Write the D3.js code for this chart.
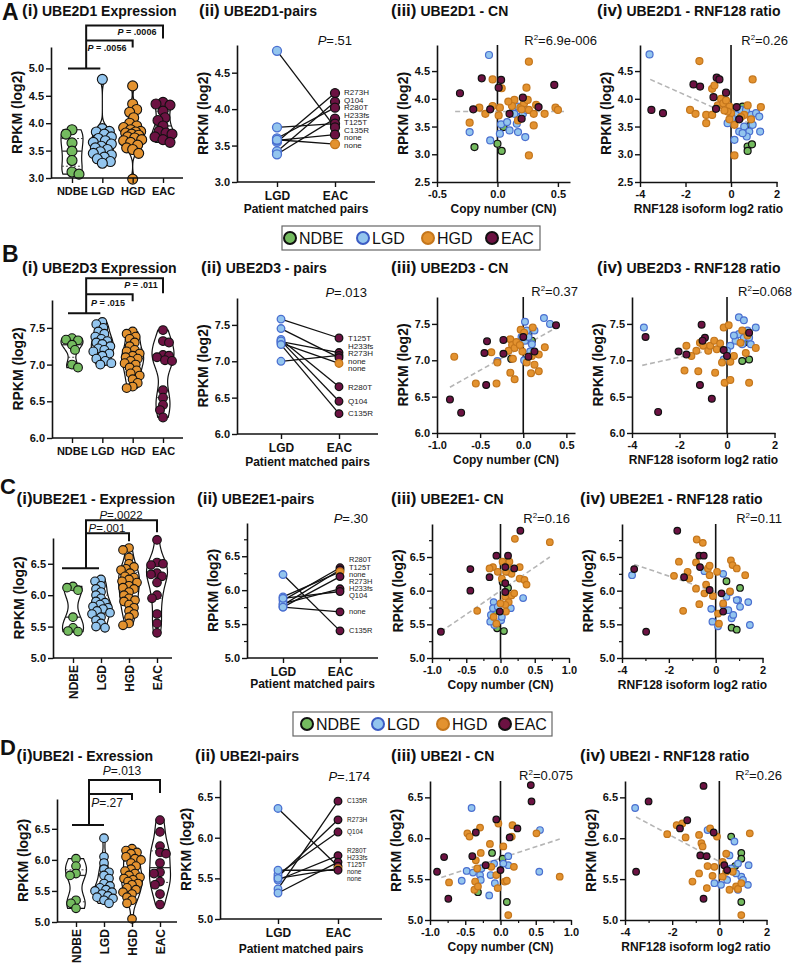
<!DOCTYPE html>
<html>
<head>
<meta charset="utf-8">
<script src="https://cdn.jsdelivr.net/npm/d3@7"></script>
<style>
  body { margin: 0; background: #fff; }
  svg { display: block; }
  text { white-space: pre; }
</style>
</head>
<body>
<svg id="fig" width="793" height="965"></svg>
<script>
// ---- data ----
const groups = ["NDBE", "LGD", "HGD", "EAC"];
const fillCol = ["#74bb5f", "#93c5ee", "#e3922f", "#6c1242"];
const markStroke = ["#111", "#4a6fd0", "#c4761c", "#111"];

// expression per group (NDBE, LGD, HGD, EAC)
const ube2d1Expr = [
  [3.88, 3.80, 3.64, 3.49, 3.32, 3.11, 3.07],
  [4.80, 3.90, 3.85, 3.84, 3.80, 3.75, 3.72, 3.68, 3.65, 3.62, 3.58, 3.55, 3.52, 3.48, 3.45, 3.42, 3.38, 3.35, 3.30, 3.27],
  [4.68, 4.35, 4.25, 4.20, 4.10, 4.00, 3.95, 3.92, 3.88, 3.85, 3.84, 3.82, 3.80, 3.78, 3.75, 3.73, 3.70, 3.68, 3.65, 3.60, 3.55, 3.52, 3.45, 2.98],
  [4.38, 4.35, 4.33, 4.22, 4.10, 4.05, 3.95, 3.85, 3.82, 3.80, 3.75, 3.70, 3.65]
];
const ube2d3Expr = [
  [7.36, 7.34, 7.33, 7.27, 7.20, 7.00, 6.96],
  [7.58, 7.55, 7.50, 7.45, 7.42, 7.38, 7.35, 7.32, 7.30, 7.28, 7.25, 7.22, 7.20, 7.18, 7.15, 7.12, 7.08, 7.05, 7.02, 7.00],
  [7.45, 7.42, 7.38, 7.35, 7.30, 7.25, 7.20, 7.18, 7.15, 7.12, 7.10, 7.08, 7.05, 7.02, 7.00, 6.96, 6.92, 6.88, 6.85, 6.80, 6.75, 6.70, 6.68],
  [7.47, 7.32, 7.30, 7.13, 7.12, 7.10, 7.06, 7.05, 6.65, 6.55, 6.45, 6.38, 6.28]
];
const ube2e1Expr = [
  [6.14, 6.12, 6.08, 5.65, 5.48, 5.43, 5.42],
  [6.25, 6.22, 6.15, 6.10, 6.05, 6.00, 5.95, 5.90, 5.88, 5.85, 5.82, 5.80, 5.78, 5.75, 5.72, 5.70, 5.65, 5.60, 5.55, 5.50, 5.48],
  [6.75, 6.72, 6.60, 6.50, 6.45, 6.42, 6.40, 6.35, 6.30, 6.28, 6.25, 6.22, 6.20, 6.15, 6.12, 6.10, 6.05, 6.00, 5.95, 5.92, 5.90, 5.85, 5.80, 5.75, 5.70, 5.65, 5.55, 5.52],
  [6.88, 6.52, 6.50, 6.48, 6.35, 6.33, 6.30, 6.20, 6.00, 5.95, 5.70, 5.55, 5.40]
];
const ube2iExpr = [
  [6.02, 5.90, 5.78, 5.75, 5.35, 5.30, 5.22],
  [6.35, 6.05, 5.95, 5.85, 5.80, 5.75, 5.70, 5.62, 5.58, 5.55, 5.52, 5.50, 5.48, 5.45, 5.42, 5.40, 5.38, 5.35, 5.30],
  [6.18, 6.15, 6.12, 6.10, 6.05, 6.02, 6.00, 5.95, 5.90, 5.85, 5.82, 5.78, 5.75, 5.72, 5.70, 5.68, 5.65, 5.62, 5.60, 5.55, 5.52, 5.48, 5.45, 5.40, 5.35, 5.30, 5.05],
  [6.64, 6.45, 6.22, 6.12, 6.10, 5.95, 5.80, 5.78, 5.65, 5.60, 5.45, 5.28]
];

// patient matched pairs (LGD -> EAC), EAC mutation label, EAC group colour
const ube2d1Mut = ["R273H", "Q104", "R280T", "H233fs", "T125T", "C135R", "none", "none"];
const ube2d1Eac = [4.22, 4.10, 4.02, 3.87, 3.80, 3.75, 3.65, 3.52];
const ube2d1Lgd = [3.55, 3.42, 3.60, 3.38, 3.75, 4.80, 3.57, 3.58];
const ube2d1Grp = [3, 3, 3, 3, 3, 3, 3, 2];

const ube2d3Mut = ["T125T", "H233fs", "R273H", "none", "none", "R280T", "Q104", "C135R"];
const ube2d3Eac = [7.32, 7.12, 7.08, 7.05, 6.97, 6.65, 6.45, 6.28];
const ube2d3Lgd = [7.58, 7.27, 7.00, 7.45, 7.25, 7.30, 7.28, 7.23];
const ube2d3Grp = [3, 3, 3, 3, 2, 3, 3, 3];

const ube2e1Mut = ["R280T", "T125T", "none", "R273H", "H233fs", "Q104", "none", "C135R"];
const ube2e1Eac = [6.33, 6.30, 6.27, 6.20, 6.02, 5.98, 5.68, 5.40];
const ube2e1Lgd = [5.85, 5.78, 5.90, 5.75, 5.80, 5.88, 5.75, 6.23];
const ube2e1Grp = [3, 3, 2, 3, 3, 3, 3, 3];

const ube2iMut = ["C135R", "R273H", "Q104", "R280T", "H233fs", "T125T", "none", "none"];
const ube2iEac = [6.45, 6.22, 6.07, 5.78, 5.70, 5.65, 5.62, 5.60];
const ube2iLgd = [5.37, 5.52, 5.55, 5.48, 5.32, 6.36, 5.50, 5.60];
const ube2iGrp = [3, 3, 3, 3, 3, 3, 2, 3];

// scatter points [x, y] per group (NDBE, LGD, HGD, EAC)
const ube2d1CN = [
  [[-0.19,3.13],[0.00,3.19],[0.035,3.06],[0.05,3.49]],
  [[-0.07,4.79],[-0.23,3.40],[-0.06,3.25],[0.02,3.37],[0.03,3.54],[0.13,3.84],[0.17,3.86],[0.10,3.43],[0.17,3.40],[0.16,3.55],[0.18,3.67],[0.21,3.73],[0.24,3.80],[0.23,3.31],[0.14,3.73],[0.08,3.58]],
  [[0.26,4.67],[-0.04,4.35],[-0.23,3.57],[-0.15,3.84],[-0.10,3.73],[-0.04,3.87],[0.02,3.84],[0.01,3.70],[0.035,4.19],[0.14,3.98],[0.19,3.84],[0.22,3.92],[0.24,4.20],[0.25,3.98],[0.26,3.80],[0.30,3.73],[0.30,3.52],[0.32,3.89],[0.39,3.73],[0.48,3.84],[0.50,3.80],[0.26,2.98],[0.17,3.61],[0.20,3.81],[0.12,3.87],[0.09,3.95]],
  [[-0.31,4.10],[-0.13,4.37],[0.03,4.34],[0.01,4.20],[-0.20,3.81],[-0.06,3.81],[0.10,3.73],[0.21,4.02],[0.20,3.64],[0.34,3.85],[0.47,4.25]]
];
const ube2d1Ratio = [
  [[0.51,3.86],[0.73,3.14],[0.92,3.18],[0.73,3.06],[0.88,3.53]],
  [[-3.58,4.80],[0.22,3.71],[-0.15,3.56],[0.15,3.26],[0.36,3.41],[0.58,3.50],[0.80,3.41],[0.69,3.32],[0.88,3.71],[1.10,3.74],[1.24,3.68],[1.28,3.41],[0.44,3.80],[0.66,3.80],[0.51,3.38],[0.95,3.53],[0.04,3.65]],
  [[-1.39,4.68],[-1.80,3.80],[-1.56,3.73],[-1.09,3.71],[-1.09,3.56],[-0.83,3.71],[-0.83,4.18],[-0.73,4.24],[-0.58,3.88],[-0.44,4.00],[-0.34,3.92],[-0.22,3.97],[-0.07,3.86],[0.00,3.74],[-0.15,3.77],[-0.07,3.63],[0.15,3.53],[0.15,2.98],[0.95,4.35],[0.73,3.88],[0.58,3.71],[0.88,3.63],[1.31,3.85],[0.44,3.67],[-0.29,3.79]],
  [[-3.50,3.80],[-2.99,3.74],[-1.65,4.26],[-1.36,4.22],[-0.63,4.38],[-0.51,4.35],[-0.77,4.03],[-0.66,3.82],[-0.22,4.11],[0.25,3.85],[0.36,3.63]]
];
const ube2d3CN = [
  [[-0.14,7.02],[0.10,7.27],[0.06,7.36]],
  [[-0.30,6.99],[0.02,7.53],[0.04,7.41],[0.02,7.27],[0.06,7.32],[0.10,7.22],[0.08,7.12],[0.01,7.00],[0.24,7.58],[0.31,7.50],[0.13,7.41],[-0.02,7.32]],
  [[-0.80,7.05],[-0.55,6.68],[-0.31,6.68],[-0.37,7.11],[-0.30,6.97],[-0.15,7.29],[-0.13,7.21],[-0.17,7.13],[-0.10,7.17],[-0.08,7.25],[-0.03,7.42],[0.01,7.38],[-0.01,7.12],[-0.12,7.02],[-0.15,6.83],[-0.10,6.74],[0.04,6.97],[0.10,7.06],[0.13,6.94],[0.09,6.82],[0.18,7.08],[0.18,6.85],[0.25,7.18],[0.11,7.45],[-0.04,7.21]],
  [[-0.85,6.46],[-0.72,6.28],[-0.42,7.26],[-0.45,7.10],[-0.43,6.66],[-0.23,7.09],[-0.23,7.28],[0.00,7.32],[0.06,7.05],[0.13,7.12],[0.38,7.48]]
];
const ube2d3Ratio = [
  [[0.64,6.99],[0.93,7.01],[0.71,7.24]],
  [[-3.50,7.45],[0.50,7.59],[0.71,7.55],[0.50,7.36],[0.86,7.41],[1.21,7.45],[0.36,7.27],[0.71,7.31],[0.93,7.31],[1.00,7.22],[0.14,7.20],[-0.14,7.01],[0.00,7.13],[0.64,7.22],[0.29,7.34]],
  [[-1.79,6.86],[-1.71,7.20],[-1.50,7.06],[-1.21,6.85],[-1.29,7.13],[-1.14,7.24],[-1.00,7.20],[-0.79,7.13],[-0.71,7.20],[-0.54,7.27],[-0.43,7.15],[-0.29,7.23],[-0.50,6.83],[-0.21,6.97],[-0.14,7.45],[0.07,7.48],[-0.10,6.69],[0.14,6.73],[0.14,6.98],[0.29,7.06],[0.57,7.24],[0.64,7.41],[0.79,7.10],[0.93,6.69],[1.21,7.17],[0.86,7.34]],
  [[-3.43,7.32],[-2.90,6.29],[-2.04,7.12],[-1.71,7.08],[-1.07,7.49],[-0.93,7.31],[-1.03,7.27],[-1.14,6.66],[-0.64,6.47],[-0.14,7.14],[0.00,7.06],[0.93,7.38]]
];
const ube2e1CN = [
  [[0.03,6.13],[0.11,6.04],[0.05,5.40],[-0.05,5.44],[-0.09,5.69]],
  [[-0.10,5.83],[-0.11,5.74],[-0.04,5.76],[0.01,5.56],[-0.09,5.49],[-0.15,5.54],[0.15,5.74],[0.33,5.89],[0.11,6.28],[0.02,5.61],[-0.14,5.64]],
  [[-0.34,5.70],[-0.11,6.35],[0.03,6.43],[-0.04,6.28],[0.02,6.18],[0.10,6.38],[0.16,6.25],[0.13,6.43],[0.21,6.77],[0.28,6.18],[0.35,6.16],[0.38,6.09],[0.28,6.35],[0.07,5.91],[0.16,5.93],[0.12,5.83],[0.07,5.79],[0.00,5.81],[0.08,5.69],[-0.06,5.51],[-0.10,5.61],[0.72,6.72],[-0.16,6.33],[0.20,5.96],[0.08,6.28]],
  [[-0.87,5.39],[-0.44,6.32],[-0.44,6.00],[-0.16,6.20],[-0.06,6.52],[-0.01,5.69],[0.11,6.52],[0.07,6.35],[0.07,6.11],[0.20,6.33],[0.29,6.89],[0.07,5.98]]
];
const ube2e1Ratio = [
  [[0.46,6.14],[1.04,6.04],[0.68,5.45],[0.90,5.42]],
  [[-3.57,6.23],[-0.48,6.29],[-0.19,5.73],[-0.14,5.54],[0.32,6.25],[0.46,5.91],[0.61,5.98],[0.96,5.86],[1.04,5.76],[1.39,5.83],[1.46,5.49],[0.68,5.59],[0.54,5.71],[0.90,5.86],[0.32,5.79],[0.10,5.47],[0.75,5.64]],
  [[-1.57,6.43],[-1.78,6.22],[-1.39,5.70],[-1.13,6.18],[-0.84,6.03],[-1.20,6.28],[-0.81,6.76],[-0.55,6.71],[-0.84,6.42],[-0.70,5.80],[-0.48,5.96],[-0.41,6.09],[-0.33,6.33],[-0.26,6.37],[-0.12,5.92],[0.06,6.28],[0.10,5.66],[0.14,5.51],[0.32,5.81],[0.61,5.99],[0.65,6.45],[0.72,6.38],[0.90,6.33],[1.26,6.23],[-0.26,6.23]],
  [[-3.48,6.32],[-2.97,5.39],[-1.64,6.89],[-1.35,6.20],[-0.70,6.52],[-0.51,6.52],[-0.67,6.35],[-0.26,6.01],[0.25,5.96],[0.32,5.69]]
];
const ube2iCN = [
  [[-0.12,5.82],[0.03,5.75],[0.09,5.22],[-0.32,5.34]],
  [[-0.41,6.37],[-0.48,5.60],[-0.55,5.48],[-0.39,5.58],[-0.29,5.55],[-0.27,5.63],[-0.28,5.49],[-0.08,5.45],[-0.09,5.69],[-0.16,5.30],[0.11,5.78],[0.11,5.67],[0.56,6.10],[0.55,5.59],[-0.14,5.55],[0.04,5.69]],
  [[-0.73,5.46],[-0.47,6.06],[-0.44,6.02],[-0.29,6.13],[-0.28,5.82],[-0.35,5.73],[-0.33,5.63],[-0.36,5.47],[-0.37,5.37],[-0.32,5.41],[-0.15,5.93],[-0.13,5.65],[-0.06,5.55],[-0.04,5.39],[-0.03,6.18],[0.04,5.90],[0.06,5.47],[0.09,5.48],[0.17,6.16],[0.16,6.02],[0.19,5.65],[0.11,5.06],[0.51,6.06],[0.84,5.53]],
  [[-0.90,5.59],[-0.80,5.77],[-0.74,5.26],[-0.35,6.07],[-0.40,5.78],[-0.21,5.67],[-0.06,6.23],[0.24,6.12],[0.43,6.65],[0.44,6.45],[0.00,5.61],[0.13,6.01]]
];
const ube2iRatio = [
  [[0.50,6.02],[0.93,5.82],[0.93,5.75],[0.67,5.66],[0.93,5.22]],
  [[-3.57,6.37],[-0.50,6.10],[-0.21,5.45],[0.07,5.43],[0.43,5.79],[0.64,5.96],[0.79,5.69],[1.24,5.67],[1.21,5.43],[0.93,5.53],[0.79,5.37],[0.33,5.49],[0.50,5.63],[0.71,5.57],[1.00,5.49]],
  [[-2.21,6.05],[-1.81,6.16],[-1.57,6.18],[-1.43,6.01],[-1.14,5.47],[-0.86,6.04],[-0.76,5.94],[-0.71,5.90],[-0.86,5.57],[-0.53,5.39],[-0.39,6.12],[-0.10,6.02],[-0.50,5.66],[-0.21,5.65],[-0.29,5.54],[0.14,5.71],[0.29,5.59],[0.29,5.81],[0.43,5.37],[0.57,5.59],[0.71,5.41],[0.79,5.38],[0.93,5.45],[0.93,5.06],[1.29,6.06],[0.14,5.53]],
  [[-3.53,5.59],[-3.00,6.45],[-1.36,6.22],[-1.67,6.12],[-0.67,6.64],[-0.24,6.07],[-0.81,5.79],[-0.54,5.78],[-0.67,5.26],[0.21,5.67],[0.33,5.61]]
];

// regression lines [x0, y0, x1, y1]
const fitD1CN = [-0.35, 3.77, 0.55, 3.77];
const fitD1Ratio = [-3.55, 4.35, 0.95, 3.53];
const fitD3CN = [-0.85, 6.63, 0.37, 7.44];
const fitD3Ratio = [-3.57, 6.93, 0.86, 7.25];
const fitE1CN = [-0.87, 5.39, 0.72, 6.50];
const fitE1Ratio = [-3.48, 6.39, 1.04, 5.86];
const fitICN = [-0.84, 5.52, 0.84, 5.99];
const fitIRatio = [-3.53, 6.26, 1.07, 5.55];

// ---- drawing ----
const FONT = '"Liberation Sans", Arial, Helvetica, sans-serif';
const svg = d3.select("#fig").attr("font-family", FONT);
const INK = "#111";

function fmt(spec) {
  const f = d3.format(spec);
  return d => f(d).replace("\u2212", "-");
}

function styleAxis(g, fs) {
  g.attr("font-family", null).attr("font-size", null);
  g.select(".domain").attr("stroke", INK).attr("stroke-width", 1.6);
  g.selectAll(".tick line").attr("stroke", INK).attr("stroke-width", 1.4);
  g.selectAll(".tick text").attr("fill", INK)
    .style("font-size", (fs || 11) + "px").style("font-weight", "bold").style("font-family", FONT);
}

function yAxis(y, x0, ticks, minor) {
  const g = svg.append("g").attr("transform", `translate(${x0},0)`)
    .call(d3.axisLeft(y).tickValues(ticks).tickFormat(fmt(".1f")).tickSize(5).tickSizeOuter(0).tickPadding(2));
  styleAxis(g);
  if (minor) {
    const [lo, hi] = y.domain();
    const m = d3.range(lo, hi + 1e-9, minor).filter(v => !ticks.some(t => Math.abs(t - v) < 1e-6));
    const gm = svg.append("g").attr("transform", `translate(${x0},0)`)
      .call(d3.axisLeft(y).tickValues(m).tickFormat("").tickSize(3));
    gm.select(".domain").remove();
    gm.selectAll(".tick line").attr("stroke", INK).attr("stroke-width", 1.2);
  }
}

function yLabel(x0, yT, yB) {
  svg.append("text")
    .attr("transform", `translate(${x0 - 29},${(yT + yB) / 2}) rotate(-90)`)
    .attr("text-anchor", "middle").attr("font-size", 14).attr("font-weight", "bold").attr("fill", INK)
    .text("RPKM (log2)");
}

function catAxis(x, yB, x0, x1, rotate, fs) {
  svg.append("line").attr("x1", x0).attr("x2", x1).attr("y1", yB).attr("y2", yB)
    .attr("stroke", INK).attr("stroke-width", 1.6);
  const g = svg.append("g").attr("transform", `translate(0,${yB})`)
    .call(d3.axisBottom(x).tickSize(5).tickPadding(4));
  g.select(".domain").remove();
  styleAxis(g, fs || 12);
  if (rotate) {
    g.selectAll(".tick text").attr("transform", "rotate(-90)")
      .attr("text-anchor", "end").attr("x", -7).attr("y", 0).attr("dy", "0.35em");
  }
}

function swarm(ys, r, maxOff) {
  const order = ys.map((py, i) => ({ py, i })).sort((a, b) => a.py - b.py);
  const placed = [], off = new Array(ys.length).fill(0);
  const minD = r * 1.35;
  order.forEach((p, k) => {
    let best = 0, bestD = -1;
    for (let j = 0; j <= 2 * maxOff; j++) {
      const o = j === 0 ? 0 : ((j + k) % 2 ? 1 : -1) * Math.ceil(j / 2);
      let dmin = Infinity;
      placed.forEach(q => { dmin = Math.min(dmin, Math.hypot(o - q.o, p.py - q.py)); });
      if (dmin >= minD) { best = o; break; }
      if (dmin > bestD) { bestD = dmin; best = o; }
    }
    off[p.i] = best;
    placed.push({ o: best, py: p.py });
  });
  return off;
}

function exprPanel(o) {
  const y = d3.scaleLinear().domain(o.dom).range([o.yB, o.yT]);
  const x = d3.scalePoint().domain(groups).range(o.catRange);

  o.data.forEach((vals, gi) => {
    const cx = x(groups[gi]);
    const s = vals.slice().sort(d3.ascending);
    const n = s.length;
    const sd = d3.deviation(s);
    const iqr = d3.quantile(s, 0.75) - d3.quantile(s, 0.25);
    const bw = 0.75 * Math.min(sd, iqr / 1.34 || sd) * Math.pow(n, -0.2);
    const kde = v => d3.sum(s, d => Math.exp(-0.5 * ((v - d) / bw) ** 2));
    const grid = d3.range(41).map(i => s[0] + (s[n - 1] - s[0]) * i / 40);
    const dens = grid.map(kde);
    const w = d3.scaleLinear().domain([0, d3.max(dens)]).range([0, o.halfW]);
    const area = d3.area().y(d => y(d))
      .x0((d, i) => cx - w(dens[i])).x1((d, i) => cx + w(dens[i]))
      .curve(d3.curveBasis);
    svg.append("path").datum(grid).attr("d", area)
      .attr("fill", "#fff").attr("stroke", INK).attr("stroke-width", 1.2);
    // median and quartiles
    [[0.5, null, 1.3], [0.25, "2,2", 0.9], [0.75, "2,2", 0.9]].forEach(([q, dash, sw]) => {
      const v = d3.quantile(s, q), hw = w(kde(v));
      svg.append("line").attr("x1", cx - hw).attr("x2", cx + hw).attr("y1", y(v)).attr("y2", y(v))
        .attr("stroke", "#333").attr("stroke-width", sw).attr("stroke-dasharray", dash);
    });
    const ys = vals.map(v => y(v));
    const offs = swarm(ys, o.r, o.halfW - 2);
    svg.append("g").selectAll("circle").data(vals).join("circle")
      .attr("cx", (d, i) => cx + offs[i]).attr("cy", d => y(d)).attr("r", o.r)
      .attr("fill", fillCol[gi]).attr("stroke", INK).attr("stroke-width", 1.1);
  });

  yAxis(y, o.x0, o.ticks);
  yLabel(o.x0, o.yT, o.yB);
  catAxis(x, o.yB, o.x0, o.x1, o.rotate, o.rotate ? 12 : 11);

  // significance brackets
  const c = groups.map(g => x(g));
  const b = o.br, base = y(b.v), mid = (c[0] + c[1]) / 2 - 1;
  const path = d3.path();
  path.moveTo(c[0] + b.left, base); path.lineTo(c[1] + b.right, base);
  path.moveTo(mid, base); path.lineTo(mid, base - b.top); path.lineTo(c[3], base - b.top); path.lineTo(c[3], base - b.top + b.drop);
  path.moveTo(mid, base - b.inner); path.lineTo(c[2], base - b.inner); path.lineTo(c[2], base - b.inner + b.idrop);
  svg.append("path").attr("d", path.toString()).attr("fill", "none").attr("stroke", INK).attr("stroke-width", 2);
  o.pl.forEach(p => {
    const t = svg.append("text").attr("x", p.x).attr("y", p.y).attr("text-anchor", "middle")
      .attr("font-size", o.plSize).attr("font-weight", o.plBold ? "bold" : "normal").attr("fill", INK);
    t.append("tspan").attr("font-style", "italic").text("P");
    t.append("tspan").text(p.t);
  });
}

function spread(ys, gap) {
  let cl = ys.map((y, i) => ({ idx: [i], c: y }));
  let changed = true;
  while (changed) {
    changed = false;
    for (let k = 0; k < cl.length - 1; k++) {
      const a = cl[k], b = cl[k + 1];
      const aEnd = a.c + (a.idx.length - 1) * gap / 2;
      const bStart = b.c - (b.idx.length - 1) * gap / 2;
      if (bStart - aEnd < gap) {
        const idx = a.idx.concat(b.idx);
        cl.splice(k, 2, { idx, c: d3.mean(idx, i => ys[i]) });
        changed = true;
        break;
      }
    }
  }
  const out = [];
  cl.forEach(c => c.idx.forEach((i, j) => { out[i] = c.c - (c.idx.length - 1) * gap / 2 + j * gap; }));
  return out;
}

function pairsPanel(o) {
  const y = d3.scaleLinear().domain(o.dom).range([o.yB, o.yT]);
  const x = d3.scalePoint().domain(["LGD", "EAC"]).range([o.lgdX, o.eacX]);
  svg.append("g").selectAll("line").data(o.lgd).join("line")
    .attr("x1", x("LGD")).attr("x2", x("EAC"))
    .attr("y1", d => y(d)).attr("y2", (d, i) => y(o.eac[i]))
    .attr("stroke", INK).attr("stroke-width", 1.3);
  svg.append("g").selectAll("circle").data(o.lgd).join("circle")
    .attr("cx", x("LGD")).attr("cy", d => y(d)).attr("r", o.r)
    .attr("fill", fillCol[1]).attr("stroke", markStroke[1]).attr("stroke-width", 1.3);
  svg.append("g").selectAll("circle").data(o.eac).join("circle")
    .attr("cx", x("EAC")).attr("cy", d => y(d)).attr("r", o.r)
    .attr("fill", (d, i) => fillCol[o.grp[i]]).attr("stroke", (d, i) => markStroke[o.grp[i]]).attr("stroke-width", 1.3);
  const ly = spread(o.eac.map(v => y(v)), o.gap);
  svg.append("g").selectAll("text").data(o.mut).join("text")
    .attr("x", x("EAC") + 9).attr("y", (d, i) => ly[i] + o.lfs * 0.35)
    .attr("font-size", o.lfs).attr("fill", "#222").text(d => d);

  yAxis(y, o.x0, o.ticks, o.minor);
  yLabel(o.x0, o.yT, o.yB);
  catAxis(x, o.yB, o.x0, o.x1, false);
  svg.append("text").attr("x", (o.x0 + o.x1) / 2).attr("y", o.yB + o.tOff)
    .attr("text-anchor", "middle").attr("font-size", 12).attr("font-weight", "bold").attr("fill", INK)
    .text("Patient matched pairs");
  const t = svg.append("text").attr("x", o.pX).attr("y", o.pY).attr("text-anchor", "end")
    .attr("font-size", 13).attr("fill", INK);
  t.append("tspan").attr("font-style", "italic").text("P");
  t.append("tspan").text(o.p);
}

function scatPanel(o) {
  const x = d3.scaleLinear().domain(o.xdom).range([o.x0, o.x1]);
  const y = d3.scaleLinear().domain(o.ydom).range([o.yB, o.yT]);
  svg.append("line").attr("x1", x(0)).attr("x2", x(0)).attr("y1", o.yB).attr("y2", o.yT)
    .attr("stroke", INK).attr("stroke-width", 1.6);
  svg.append("line")
    .attr("x1", x(o.fit[0])).attr("y1", y(o.fit[1])).attr("x2", x(o.fit[2])).attr("y2", y(o.fit[3]))
    .attr("stroke", "#b5b5b5").attr("stroke-width", 1.6).attr("stroke-dasharray", "5,3");
  o.data.forEach((pts, gi) => {
    svg.append("g").selectAll("circle").data(pts).join("circle")
      .attr("cx", d => x(d[0])).attr("cy", d => y(d[1])).attr("r", o.r)
      .attr("fill", fillCol[gi]).attr("stroke", markStroke[gi]).attr("stroke-width", 1.2);
  });
  yAxis(y, o.x0, o.yticks, o.yminor);
  yLabel(o.x0, o.yT, o.yB);
  const gx = svg.append("g").attr("transform", `translate(0,${o.yB})`)
    .call(d3.axisBottom(x).tickValues(o.xticks).tickFormat(fmt(o.xfmt)).tickSize(5).tickSizeOuter(0).tickPadding(3));
  styleAxis(gx);
  if (o.xminor) {
    const gm = svg.append("g").attr("transform", `translate(0,${o.yB})`)
      .call(d3.axisBottom(x).tickValues(o.xminor).tickFormat("").tickSize(3));
    gm.select(".domain").remove();
    gm.selectAll(".tick line").attr("stroke", INK).attr("stroke-width", 1.2);
  }
  svg.append("text").attr("x", (o.x0 + o.x1) / 2).attr("y", o.yB + 31)
    .attr("text-anchor", "middle").attr("font-size", 12).attr("font-weight", "bold").attr("fill", INK)
    .text(o.xlabel);
  const t = svg.append("text").attr("x", o.rX).attr("y", o.rY).attr("text-anchor", "end")
    .attr("font-size", 13).attr("fill", INK);
  t.append("tspan").text("R");
  t.append("tspan").attr("font-size", 8).attr("dy", -5).text("2");
  t.append("tspan").attr("dy", 5).text("=" + o.r2);
}

function title(x, y, a, b) {
  const t = svg.append("text").attr("x", x).attr("y", y).attr("font-weight", "bold").attr("fill", INK);
  t.append("tspan").attr("font-size", 17).text(a);
  t.append("tspan").attr("font-size", 14).text(b);
}
function letter(t, x, y, fs) {
  svg.append("text").attr("x", x).attr("y", y).attr("font-size", fs || 23).attr("font-weight", "bold")
    .attr("fill", INK).text(t);
}
function legend(x, y, w, h, cxs) {
  svg.append("rect").attr("x", x).attr("y", y).attr("width", w).attr("height", h)
    .attr("fill", "#fff").attr("stroke", "#666").attr("stroke-width", 1.2);
  groups.forEach((g, i) => {
    svg.append("circle").attr("cx", cxs[i]).attr("cy", y + h / 2).attr("r", 6)
      .attr("fill", fillCol[i]).attr("stroke", i === 1 ? "#3c5cc4" : i === 2 ? "#c4761c" : INK)
      .attr("stroke-width", 2);
    svg.append("text").attr("x", cxs[i] + 9).attr("y", y + h / 2 + 6)
      .attr("font-size", 16).attr("fill", INK).text(g);
  });
}

// ---------- Row A ----------
letter("A", 2, 20);
title(22, 16, "(i)", " UBE2D1 Expression");
title(199, 16, "(ii)", " UBE2D1-pairs");
title(391, 16, "(iii)", " UBE2D1 - CN");
title(597, 16, "(iv)", " UBE2D1 - RNF128 ratio");
exprPanel({
  data: ube2d1Expr, dom: [3.0, 5.39], ticks: [3, 3.5, 4, 4.5, 5],
  x0: 51, x1: 183, yB: 178, yT: 47, catRange: [72, 163], r: 5, halfW: 11,
  br: { v: 5.0, top: 43, drop: 13, inner: 28, idrop: 7, left: -4, right: -2 },
  pl: [{ t: " = .0006", x: 137, y: 35 }, { t: " = .0056", x: 107, y: 51 }], plSize: 9, plBold: true
});
pairsPanel({
  lgd: ube2d1Lgd, eac: ube2d1Eac, mut: ube2d1Mut, grp: ube2d1Grp,
  dom: [3.0, 4.88], ticks: [3, 3.5, 4, 4.5], x0: 237, x1: 375, yB: 182, yT: 45,
  lgdX: 277, eacX: 335, r: 4.5, gap: 7.5, lfs: 8, tOff: 31, p: "=.51", pX: 352, pY: 45
});
scatPanel({
  data: ube2d1CN, fit: fitD1CN, xdom: [-0.5, 0.6], x0: 437, x1: 570, xticks: [-0.5, 0, 0.5], xfmt: ".1f",
  ydom: [2.5, 4.97], yB: 182, yT: 45, yticks: [2.5, 3, 3.5, 4, 4.5], r: 3.5,
  xlabel: "Copy number (CN)", r2: "6.9e-006", rX: 597, rY: 45
});
scatPanel({
  data: ube2d1Ratio, fit: fitD1Ratio, xdom: [-4, 2.02], x0: 640, x1: 777, xticks: [-4, -2, 0, 2], xfmt: "d",
  ydom: [2.5, 4.97], yB: 182, yT: 45, yticks: [2.5, 3, 3.5, 4, 4.5], r: 3.5,
  xlabel: "RNF128 isoform log2 ratio", r2: "0.26", rX: 788, rY: 45
});

legend(282, 226, 258, 24, [290, 363, 428, 492]);

// ---------- Row B ----------
letter("B", 2, 262);
title(22, 273, "(i)", " UBE2D3 Expression");
title(201, 273, "(ii)", " UBE2D3 - pairs");
title(391, 273, "(iii)", " UBE2D3 - CN");
title(597, 273, "(iv)", " UBE2D3 - RNF128 ratio");
exprPanel({
  data: ube2d3Expr, dom: [6.0, 7.88], ticks: [6, 6.5, 7, 7.5],
  x0: 52, x1: 183, yB: 438, yT: 300, catRange: [72, 163], r: 4.4, halfW: 11,
  br: { v: 7.7, top: 35, drop: 15, inner: 19, idrop: 7, left: -4, right: -2 },
  pl: [{ t: " = .011", x: 141, y: 288 }, { t: " = .015", x: 108, y: 306 }], plSize: 9, plBold: true
});
pairsPanel({
  lgd: ube2d3Lgd, eac: ube2d3Eac, mut: ube2d3Mut, grp: ube2d3Grp,
  dom: [6.0, 7.87], ticks: [6, 6.5, 7, 7.5], x0: 237, x1: 378, yB: 434, yT: 298,
  lgdX: 281, eacX: 339, r: 3.8, gap: 7.5, lfs: 8, tOff: 32, p: "=.013", pX: 367, pY: 297
});
scatPanel({
  data: ube2d3CN, fit: fitD3CN, xdom: [-1.0, 0.6], x0: 437, x1: 575, xticks: [-1, -0.5, 0, 0.5], xfmt: ".1f",
  ydom: [6.0, 7.87], yB: 433, yT: 297, yticks: [6, 6.5, 7, 7.5], r: 3.4,
  xlabel: "Copy number (CN)", r2: "0.37", rX: 578, rY: 296
});
scatPanel({
  data: ube2d3Ratio, fit: fitD3Ratio, xdom: [-4, 2.02], x0: 632, x1: 775, xticks: [-4, -2, 0, 2], xfmt: "d",
  ydom: [6.0, 7.87], yB: 433, yT: 297, yticks: [6, 6.5, 7, 7.5], r: 3.4,
  xlabel: "RNF128 isoform log2 ratio", r2: "0.068", rX: 792, rY: 296
});

// ---------- Row C ----------
letter("C", 0, 494, 22);
title(16.5, 504, "(i)", "UBE2E1 - Expression");
title(197, 504, "(ii)", " UBE2E1-pairs");
title(391, 504, "(iii)", " UBE2E1- CN");
title(580, 504, "(iv)", " UBE2E1 - RNF128 ratio");
exprPanel({
  data: ube2e1Expr, dom: [5.0, 6.91], ticks: [5, 5.5, 6, 6.5],
  x0: 53, x1: 172, yB: 658, yT: 538, catRange: [73, 157], r: 4.3, halfW: 10.5, rotate: true,
  br: { v: 6.43, top: 48, drop: 12, inner: 35, idrop: 8, left: -11, right: -2 },
  pl: [{ t: "=.0022", x: 121, y: 518.5 }, { t: "=.001", x: 107, y: 531.5 }], plSize: 11.5, plBold: false
});
pairsPanel({
  lgd: ube2e1Lgd, eac: ube2e1Eac, mut: ube2e1Mut, grp: ube2e1Grp,
  dom: [5.0, 6.99], ticks: [5, 5.5, 6, 6.5], minor: 0.25, x0: 247, x1: 378, yB: 658, yT: 523,
  lgdX: 283, eacX: 340, r: 3.8, gap: 7.2, lfs: 7.5, tOff: 30, p: "=.30", pX: 368, pY: 523
});
scatPanel({
  data: ube2e1CN, fit: fitE1CN, xdom: [-1, 1], x0: 432, x1: 569, xticks: [-1, -0.5, 0, 0.5, 1], xfmt: ".1f",
  xminor: [-0.75, -0.25, 0.25, 0.75],
  ydom: [5.0, 6.99], yB: 658, yT: 524, yticks: [5, 5.5, 6, 6.5], yminor: 0.25, r: 3.3,
  xlabel: "Copy number (CN)", r2: "0.16", rX: 570, rY: 523
});
scatPanel({
  data: ube2e1Ratio, fit: fitE1Ratio, xdom: [-4, 2.02], x0: 622, x1: 763, xticks: [-4, -2, 0, 2], xfmt: "d",
  xminor: [-3, -1, 1],
  ydom: [5.0, 6.99], yB: 658, yT: 524, yticks: [5, 5.5, 6, 6.5], yminor: 0.25, r: 3.3,
  xlabel: "RNF128 isoform log2 ratio", r2: "0.11", rX: 782, rY: 523
});

legend(293, 712, 259, 24, [307, 378, 443, 505]);

// ---------- Row D ----------
letter("D", 0, 755, 22);
title(16.5, 761, "(i)", "UBE2I - Exression");
title(195, 761, "(ii)", " UBE2I-pairs");
title(391, 761, "(iii)", " UBE2I - CN");
title(580, 761, "(iv)", " UBE2I - RNF128 ratio");
exprPanel({
  data: ube2iExpr, dom: [5.0, 6.98], ticks: [5, 5.5, 6, 6.5],
  x0: 57, x1: 177, yB: 922, yT: 799, catRange: [76, 160], r: 4.3, halfW: 10.5, rotate: true,
  br: { v: 6.56, top: 45, drop: 13, inner: 31, idrop: 6, left: -4, right: 0 },
  pl: [{ t: "=.013", x: 122, y: 775 }, { t: "=.27", x: 107, y: 807 }], plSize: 12, plBold: false
});
pairsPanel({
  lgd: ube2iLgd, eac: ube2iEac, mut: ube2iMut, grp: ube2iGrp,
  dom: [5.0, 6.71], ticks: [5, 5.5, 6, 6.5], x0: 220, x1: 382, yB: 919, yT: 780,
  lgdX: 278, eacX: 338, r: 3.8, gap: 7, lfs: 6.5, tOff: 34, p: "=.174", pX: 370, pY: 781
});
scatPanel({
  data: ube2iCN, fit: fitICN, xdom: [-1, 1], x0: 430, x1: 571, xticks: [-1, -0.5, 0, 0.5, 1], xfmt: ".1f",
  xminor: [-0.75, -0.25, 0.25, 0.75],
  ydom: [5.0, 6.70], yB: 920, yT: 781, yticks: [5, 5.5, 6, 6.5], r: 3.3,
  xlabel: "Copy number (CN)", r2: "0.075", rX: 573, rY: 780
});
scatPanel({
  data: ube2iRatio, fit: fitIRatio, xdom: [-4, 2.02], x0: 625, x1: 767, xticks: [-4, -2, 0, 2], xfmt: "d",
  xminor: [-3, -1, 1],
  ydom: [5.0, 6.70], yB: 920, yT: 781, yticks: [5, 5.5, 6, 6.5], r: 3.3,
  xlabel: "RNF128 isoform log2 ratio", r2: "0.26", rX: 782, rY: 780
});
</script>
</body>
</html>
